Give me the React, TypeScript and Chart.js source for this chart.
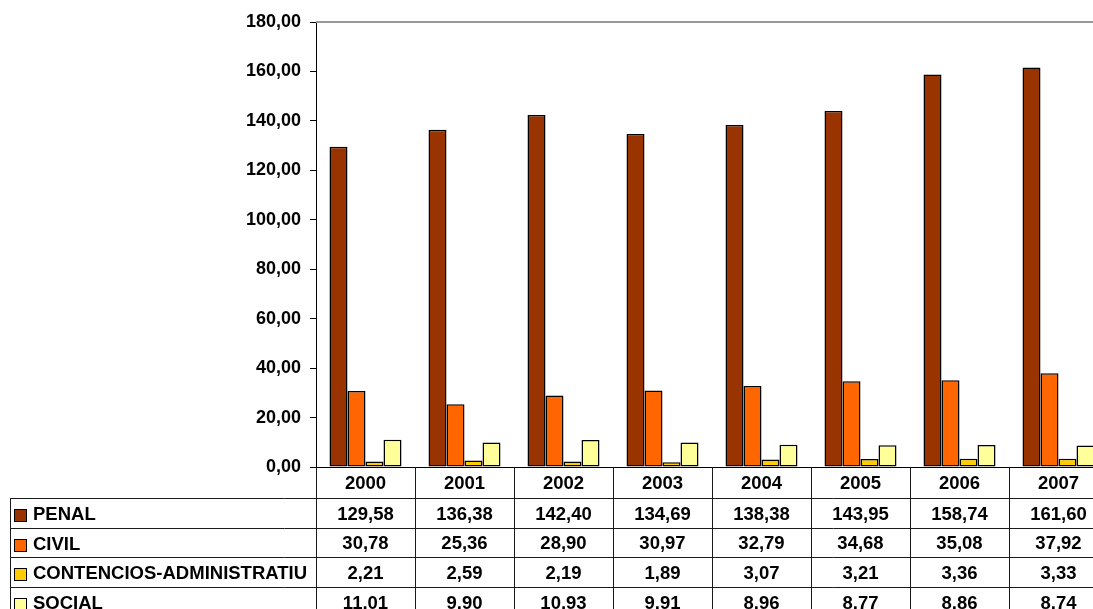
import React, { useEffect, useRef } from "react";
import { Chart, registerables } from "chart.js";

Chart.register(...registerables);

const categories = ["2000", "2001", "2002", "2003", "2004", "2005", "2006", "2007"];
const seriesNames = ["PENAL", "CIVIL", "CONTENCIOS-ADMINISTRATIU", "SOCIAL"];
const penal = [129.58, 136.38, 142.4, 134.69, 138.38, 143.95, 158.74, 161.6];
const civil = [30.78, 25.36, 28.9, 30.97, 32.79, 34.68, 35.08, 37.92];
const contencios = [2.21, 2.59, 2.19, 1.89, 3.07, 3.21, 3.36, 3.33];
const social = [11.01, 9.9, 10.93, 9.91, 8.96, 8.77, 8.86, 8.74];
const seriesColors = ["#993300", "#FF6600", "#FFCC00", "#FFFF99"];
const yMin = 0;
const yMax = 180;
const yStep = 20;

const FONT = "'Liberation Sans', Arial, sans-serif";
const CANVAS_W = 1120;
const CANVAS_H = 622;

const fmt = (v: number) => v.toFixed(2).replace(".", ",");

const tablePlugin = {
  id: "dataTable",
  afterDraw(chart: any) {
    const ctx = chart.ctx as CanvasRenderingContext2D;
    const area = chart.chartArea;
    const xs = chart.scales.x;
    const n = categories.length;
    const cw = (area.right - area.left) / n;
    const rowOffsets = [0, 31, 61, 90, 120, 150];
    const rows = rowOffsets.map((o) => area.bottom + o);
    const legendLeft = 10;
    const allSeries = [penal, civil, contencios, social];

    ctx.save();
    // top border of plot area
    ctx.strokeStyle = "#999999";
    ctx.lineWidth = 2;
    ctx.beginPath();
    ctx.moveTo(area.left, area.top);
    ctx.lineTo(area.right, area.top);
    ctx.stroke();

    // table lines
    ctx.strokeStyle = "#1a1a1a";
    ctx.lineWidth = 1;
    ctx.beginPath();
    for (let i = 0; i <= n; i++) {
      const bx = Math.round(area.left + i * cw) + 0.5;
      ctx.moveTo(bx, rows[0]);
      ctx.lineTo(bx, rows[rows.length - 1]);
    }
    for (let r = 1; r < rows.length; r++) {
      const y = Math.round(rows[r]) + 0.5;
      ctx.moveTo(legendLeft, y);
      ctx.lineTo(area.right, y);
    }
    ctx.moveTo(legendLeft + 0.5, rows[1]);
    ctx.lineTo(legendLeft + 0.5, rows[rows.length - 1]);
    ctx.stroke();

    ctx.fillStyle = "#000";
    ctx.font = `bold 18.5px ${FONT}`;
    ctx.textAlign = "center";
    ctx.textBaseline = "middle";
    for (let i = 0; i < n; i++) {
      const cx = xs.getPixelForValue(i);
      ctx.fillText(categories[i], cx, (rows[0] + rows[1]) / 2 + 1);
      for (let s = 0; s < allSeries.length; s++) {
        const cy = (rows[s + 1] + rows[s + 2]) / 2 + 1.5;
        ctx.fillText(fmt(allSeries[s][i]), cx, cy);
      }
    }

    // legend column
    ctx.textAlign = "left";
    for (let s = 0; s < seriesNames.length; s++) {
      const cy = (rows[s + 1] + rows[s + 2]) / 2 + 2;
      ctx.fillStyle = seriesColors[s];
      ctx.fillRect(14.5, Math.round(cy - 6) + 0.5, 12, 12);
      ctx.strokeStyle = "#000";
      ctx.lineWidth = 1;
      ctx.strokeRect(14.5, Math.round(cy - 6) + 0.5, 12, 12);
      ctx.fillStyle = "#000";
      ctx.font = `bold 18.5px ${FONT}`;
      ctx.fillText(seriesNames[s], 33, cy);
    }
    ctx.restore();
  },
};

export default function App() {
  const ref = useRef<HTMLCanvasElement>(null);

  useEffect(() => {
    if (!ref.current) return;
    const allSeries = [penal, civil, contencios, social];
    const chart = new Chart(ref.current, {
      type: "bar",
      data: {
        labels: categories,
        datasets: seriesNames.map((name, i) => ({
          label: name,
          data: allSeries[i],
          backgroundColor: seriesColors[i],
          borderColor: "#000",
          borderWidth: 1.5,
          borderSkipped: false,
          categoryPercentage: 72 / 99,
          barPercentage: 1,
        })),
      },
      options: {
        responsive: false,
        animation: false,
        devicePixelRatio: 1,
        layout: { padding: { top: 22, right: 12, left: 0, bottom: 0 } },
        plugins: {
          legend: { display: false },
          tooltip: { enabled: false },
        },
        scales: {
          x: {
            type: "category",
            offset: true,
            grid: { display: false },
            ticks: { display: false },
            border: { display: true, color: "#000", width: 1 },
            afterFit: (scale: any) => {
              scale.height = CANVAS_H - 467;
            },
          },
          y: {
            min: yMin,
            max: yMax,
            grid: {
              display: true,
              drawOnChartArea: false,
              drawTicks: true,
              tickLength: 6,
              color: "#000",
            },
            border: { display: true, color: "#000", width: 1 },
            ticks: {
              stepSize: yStep,
              padding: 9,
              color: "#000",
              font: { family: FONT, size: 18, weight: "bold" },
              callback: (v: any) => fmt(Number(v)),
            },
            afterFit: (scale: any) => {
              scale.width = 316;
            },
          },
        },
      },
      plugins: [tablePlugin],
    });
    return () => chart.destroy();
  }, []);

  return (
    <div
      style={{
        position: "fixed",
        left: 0,
        top: 0,
        width: 1093,
        height: 609,
        overflow: "hidden",
        background: "#fff",
      }}
    >
      <canvas ref={ref} width={CANVAS_W} height={CANVAS_H} style={{ display: "block" }} />
    </div>
  );
}
